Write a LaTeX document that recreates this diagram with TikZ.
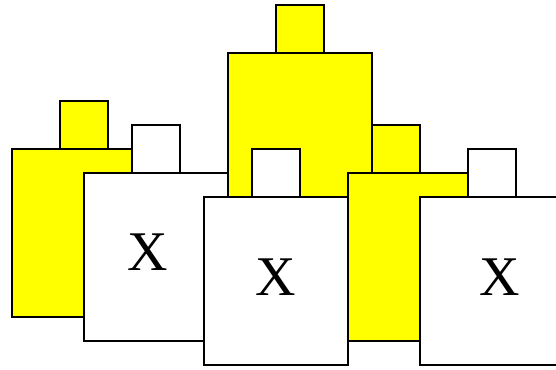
\documentclass[tikz,border=0pt]{standalone}
\usepackage{fontspec}
\setmainfont{Liberation Serif}
\usetikzlibrary{positioning}

\definecolor{fillyellow}{RGB}{255,255,0}
\tikzset{
  piece/.style={draw=black, line width=1.1pt},
  mark label/.style={font=\fontsize{42}{42}\selectfont, inner sep=0pt}
}
% #1 fill, #2 body left, #3 body top, #4 tab left
\newcommand{\bottle}[4]{%
  \draw[piece, fill=#1] (#4,#3-48) rectangle ++(48,48);
  \draw[piece, fill=#1] (#2,#3) rectangle ++(144,168);
}

\begin{document}
\begin{tikzpicture}[x=0.75pt, y=-0.75pt]
  \useasboundingbox (0,0) rectangle (556,369);
  \bottle{fillyellow}{12}{149}{60}
  \bottle{white}{84}{173}{132}
  \node[mark label] (xa) at (148,252) {X};
  \bottle{fillyellow}{228}{53}{276}
  \bottle{white}{204}{197}{252}
  \node[mark label] (xb) at (276,277) {X};
  \bottle{fillyellow}{348}{173}{372}
  \bottle{white}{420}{197}{468}
  \node[mark label] (xc) at (500,277) {X};
\end{tikzpicture}
\end{document}
